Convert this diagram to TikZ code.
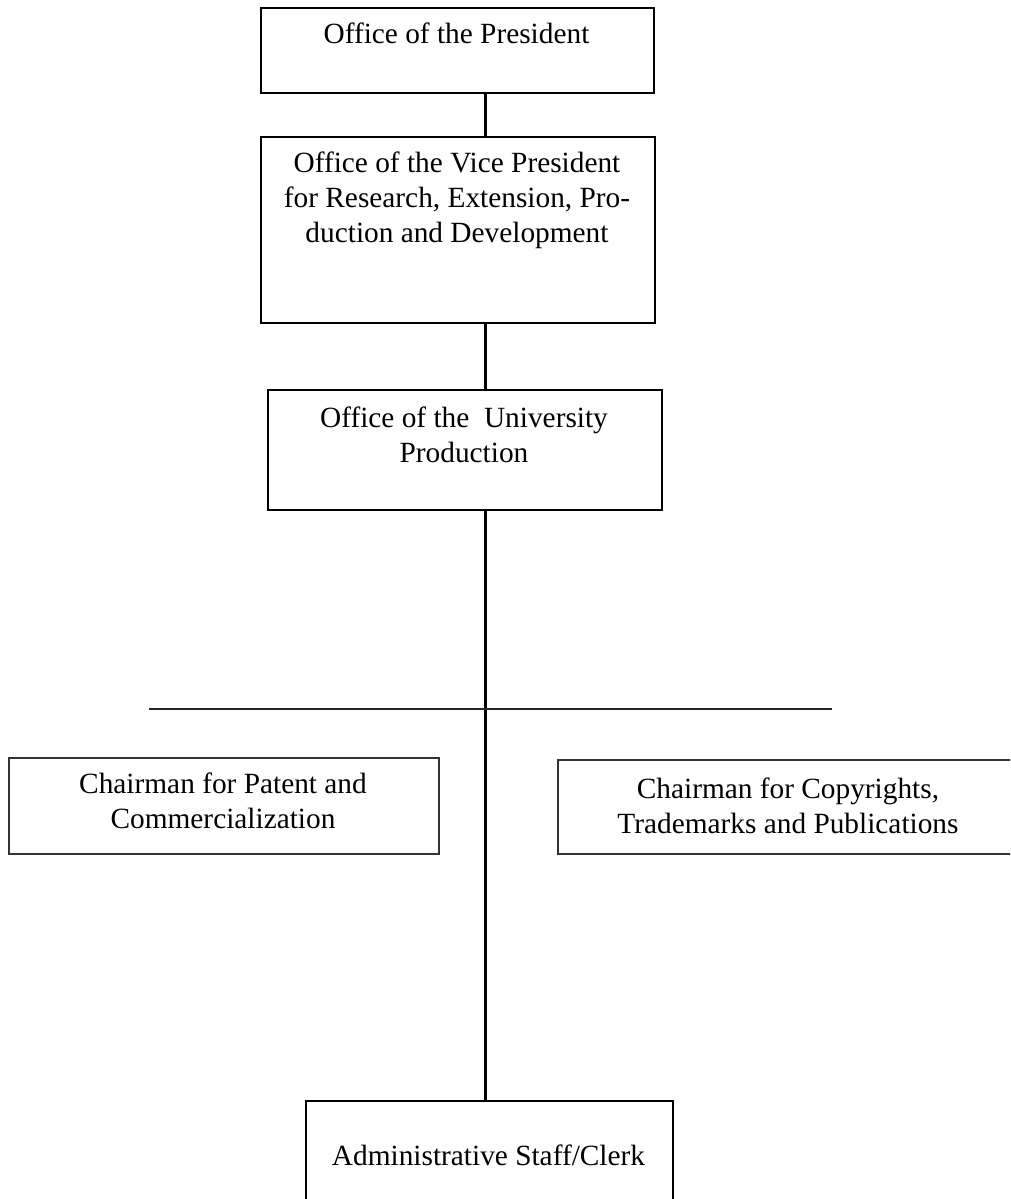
\documentclass[tikz,border=0pt]{standalone}
\usepackage{fontspec}
\setmainfont{Liberation Serif}
\begin{document}
\begin{tikzpicture}[x=0.75pt,y=-0.75pt,
  orgbox/.style={draw=black, line width=1.6pt, rectangle, inner sep=0pt, anchor=north west},
  sidebox/.style={draw=black!80, line width=1.3pt, rectangle, inner sep=0pt, anchor=north west},
  label/.style={font=\fontsize{22pt}{26.25pt}\selectfont, align=center, inner sep=0pt, anchor=base},
  link/.style={draw=black, line width=1.9pt},
  rule/.style={draw=black!85, line width=1.4pt}]
\useasboundingbox (0,0) rectangle (1010,1199);
\clip (0,0) rectangle (1010,1199);

% boxes
\node[orgbox, minimum width=294.75pt, minimum height=63.75pt] (pres) at (260,7) {};
\node[orgbox, minimum width=295.5pt, minimum height=139.5pt] (vp) at (260,136) {};
\node[orgbox, minimum width=295.5pt, minimum height=90pt] (univ) at (267,389) {};
\node[sidebox, minimum width=322.5pt, minimum height=72pt] (patent) at (8,757) {};
\node[sidebox, minimum width=346.5pt, minimum height=70.5pt] (copy) at (557,759) {};
\node[orgbox, minimum width=275.25pt, minimum height=97.5pt] (admin) at (305,1100) {};

% texts (anchored on the baseline of the last line)
\node[label] (presT) at (456.5,43) {Office of the President};
\node[label] (vpT) at (457,242) {Office of the Vice President\\for Research, Extension, Pro-\\duction and Development};
\node[label] (univT) at (464,462) {Office of the\ \ University\\Production};
\node[label] (patentT) at (223,828) {Chairman for Patent and\\Commercialization};
\node[label] (copyT) at (788,833) {Chairman for Copyrights,\\Trademarks and Publications};
\node[label] (adminT) at (488.5,1165) {Administrative Staff/Clerk};

% connectors
\coordinate (trunk) at (485.5,0);
\coordinate (barL) at (149,709);
\coordinate (barR) at (832,709);
\draw[link] (pres.south -| trunk) -- (vp.north -| trunk);
\draw[link] (vp.south -| trunk) -- (univ.north -| trunk);
\draw[link] (univ.south -| trunk) -- (admin.north -| trunk);
\draw[rule] (barL) -- (barR);
\end{tikzpicture}
\end{document}
